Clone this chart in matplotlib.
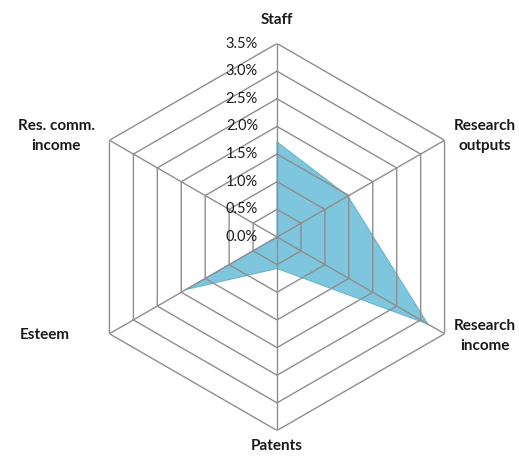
import numpy as np
import matplotlib
matplotlib.use("Agg")
import matplotlib.pyplot as plt
from matplotlib.transforms import offset_copy

categories = ["Staff", "Research\noutputs", "Research\nincome", "Patents", "Esteem", "Res. comm.\nincome"]
values = [1.72, 1.48, 3.15, 0.57, 1.9, 0.0]
rings = [0.5, 1.0, 1.5, 2.0, 2.5, 3.0, 3.5]
tick_labels = ["0.0%", "0.5%", "1.0%", "1.5%", "2.0%", "2.5%", "3.0%", "3.5%"]

plt.rcParams["font.family"] = ["Lato", "DejaVu Sans"]

fig = plt.figure(figsize=(5.19, 4.57), dpi=100)
ax = fig.add_axes([0.1609, 0.058, 0.7457, 0.8468], projection="polar")
ax.set_theta_zero_location("N")
ax.set_theta_direction(-1)
ax.set_ylim(0, 3.5)
ax.grid(False)
ax.spines["polar"].set_visible(False)
ax.set_xticks([])
ax.set_yticks([])
ax.patch.set_alpha(0)

n = len(categories)
angles = np.linspace(0, 2 * np.pi, n, endpoint=False)
closed = np.append(angles, angles[0])

# data area
ax.fill(closed, values + values[:1], color="#7EC6DD", edgecolor="#6AB6CE", lw=0.8, zorder=1)

# hexagon grid
grid_col = "#8E8E8E"
for r in rings:
    ax.plot(closed, [r] * (n + 1), color=grid_col, lw=1.0, zorder=2)
for a in angles:
    ax.plot([a, a], [0, 3.5], color=grid_col, lw=1.0, zorder=2)

# radial tick labels
tr = offset_copy(ax.transData, fig=fig, x=-19, y=0, units="dots")
for i, lab in enumerate(tick_labels):
    ax.text(0, i * 0.5, lab, transform=tr, ha="right", va="center",
            fontsize=10.5, color="#1a1a1a")

# category labels
label_pos = [(277, 20), (485, 136), (485, 336), (277, 446), (45, 335), (56, 136)]
for lab, (px, py) in zip(categories, label_pos):
    fig.text(px / 519, 1 - py / 457, lab, ha="center", va="center",
             fontsize=11, fontweight="bold", color="#1a1a1a", linespacing=1.55)

fig.savefig("out.png", dpi=100)
